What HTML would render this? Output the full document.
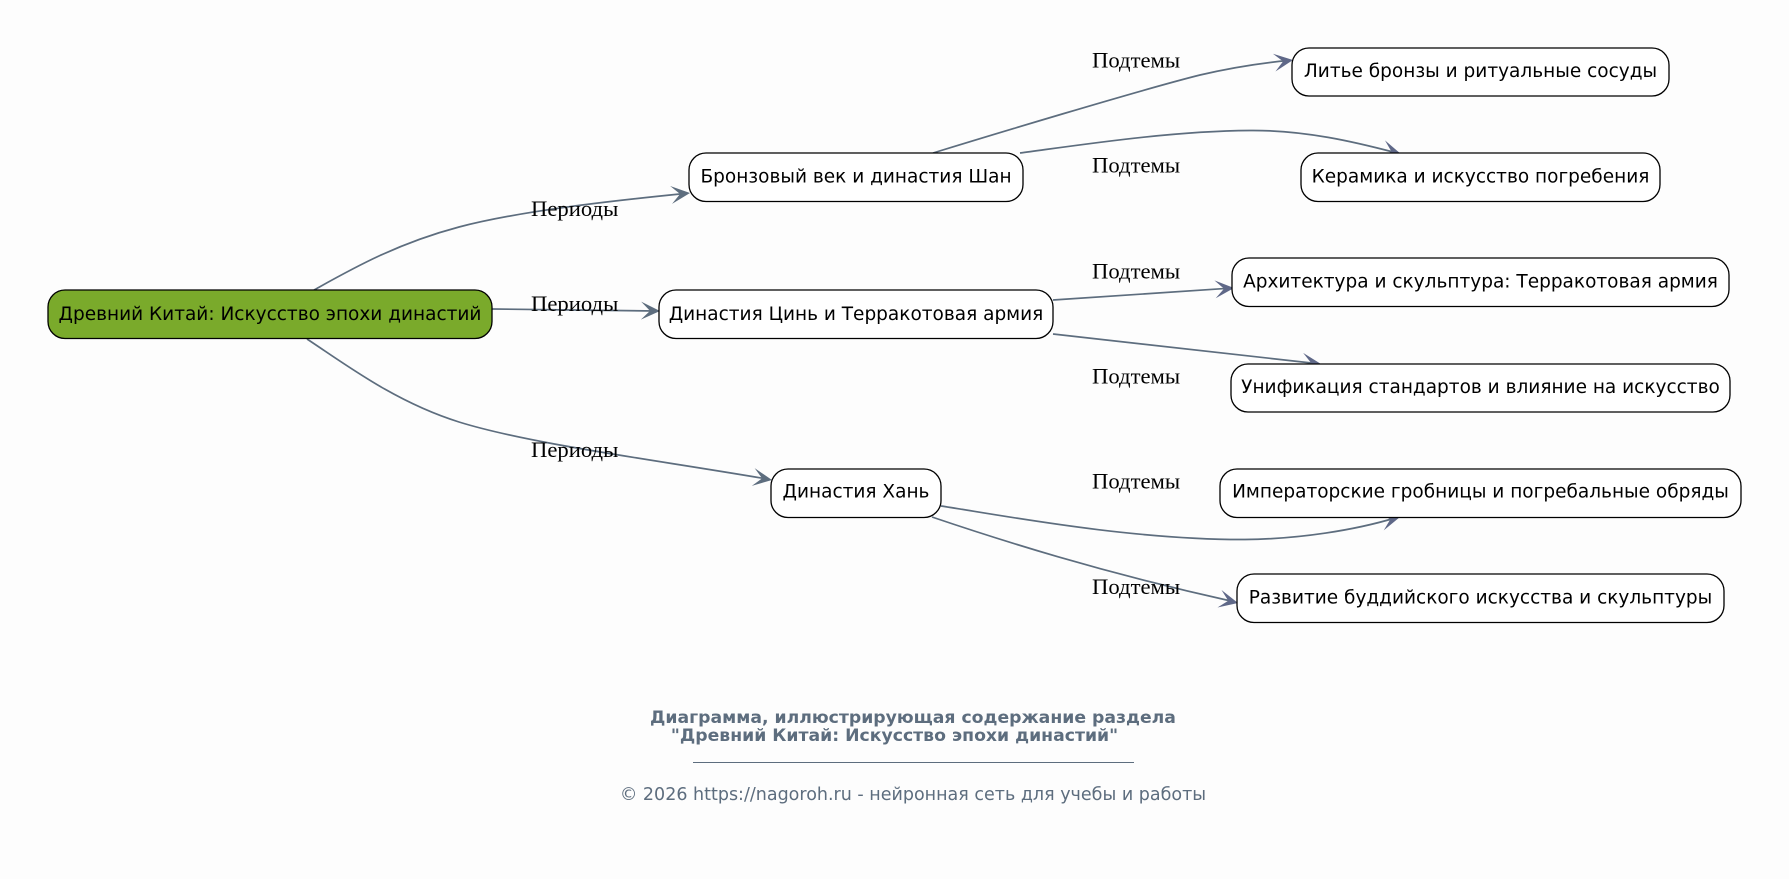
<!DOCTYPE html>
<html lang="ru"><head><meta charset="utf-8"><title>Диаграмма</title>
<style>
html,body{margin:0;padding:0;background:#fdfdfd}
svg{display:block}
.n{fill:#fff;stroke:#000;stroke-width:1.3}
.t{font-family:"DejaVu Sans",sans-serif;font-size:18.5px;fill:#000;text-anchor:middle}
.l{font-family:"Liberation Serif",serif;font-size:22.67px;fill:#000}
.e{fill:none;stroke:#5d6d7e;stroke-width:1.7}
.a{fill:#5d6d7e}
.b{fill:#5f6888}
</style></head><body>
<svg width="1789" height="879" viewBox="0 0 1789 879" xmlns="http://www.w3.org/2000/svg">
<rect width="1789" height="879" fill="#fdfdfd"/>

<path class="e" d="M314 290C350 270 395 244 459 227C520 211 610 201 685 193.500"/>
<path class="e" d="M492 309L655 311"/>
<path class="e" d="M307 339C345 364 395 402 459 422C530 444 650 459 767 479"/>
<path class="e" d="M933 153C985 137 1140 90 1200 75C1230 68 1262 63 1288 60.500"/>
<path class="e" d="M1020 153C1080 145 1170 131 1250 130.500C1305 130 1355 142 1395 152.500"/>
<path class="e" d="M1053 300L1228 288.300"/>
<path class="e" d="M1053 334L1316 363.500"/>
<path class="e" d="M941 506C1000 515 1130 540 1245 539.500C1300 539 1355 530 1395 518"/>
<path class="e" d="M932 517C1000 540 1100 572 1233 601.500"/>

<path class="a" transform="translate(690,193) rotate(-6)" d="M0 0L-19 -9L-10 0L-19 9Z"/>
<path class="a" transform="translate(660,311) rotate(1)" d="M0 0L-19 -9L-10 0L-19 9Z"/>
<path class="a" transform="translate(772,480) rotate(9)" d="M0 0L-19 -9L-10 0L-19 9Z"/>
<path class="b" transform="translate(1293,60) rotate(-8)" d="M0 0L-19 -9L-10 0L-19 9Z"/>
<path class="b" transform="translate(1401,154) rotate(15)" d="M0 0L-19 -9L-10 0L-19 9Z"/>
<path class="b" transform="translate(1234,288) rotate(-4)" d="M0 0L-19 -9L-10 0L-19 9Z"/>
<path class="b" transform="translate(1321,364) rotate(6.500)" d="M0 0L-19 -9L-10 0L-19 9Z"/>
<path class="b" transform="translate(1400,517) rotate(-14)" d="M0 0L-19 -9L-10 0L-19 9Z"/>
<path class="b" transform="translate(1238,603) rotate(13)" d="M0 0L-19 -9L-10 0L-19 9Z"/>

<rect x="48" y="290" width="444" height="48.500" rx="17" fill="#7aaa2b" stroke="#000" stroke-width="1.300"/>
<rect class="n" x="689" y="153" width="334" height="48.500" rx="17"/>
<rect class="n" x="659" y="290" width="394" height="48.500" rx="17"/>
<rect class="n" x="771" y="469" width="170" height="48.500" rx="17"/>
<rect class="n" x="1292" y="48" width="377" height="48" rx="17"/>
<rect class="n" x="1301" y="153" width="359" height="48.500" rx="17"/>
<rect class="n" x="1232" y="258" width="497" height="48.500" rx="17"/>
<rect class="n" x="1231" y="364" width="499" height="48" rx="17"/>
<rect class="n" x="1220" y="469" width="521" height="48.500" rx="17"/>
<rect class="n" x="1237" y="574" width="487" height="48.500" rx="17"/>

<text class="t" x="270" y="320">Древний Китай: Искусство эпохи династий</text>
<text class="t" x="856" y="182.500">Бронзовый век и династия Шан</text>
<text class="t" x="856" y="320">Династия Цинь и Терракотовая армия</text>
<text class="t" x="856" y="497.500">Династия Хань</text>
<text class="t" x="1480.500" y="77">Литье бронзы и ритуальные сосуды</text>
<text class="t" x="1480.500" y="182.500">Керамика и искусство погребения</text>
<text class="t" x="1480.500" y="287.500">Архитектура и скульптура: Терракотовая армия</text>
<text class="t" x="1480.500" y="393">Унификация стандартов и влияние на искусство</text>
<text class="t" x="1480.500" y="497.500">Императорские гробницы и погребальные обряды</text>
<text class="t" x="1480.500" y="603.500">Развитие буддийского искусства и скульптуры</text>

<text class="l" x="531" y="216">Периоды</text>
<text class="l" x="531" y="311">Периоды</text>
<text class="l" x="531" y="457">Периоды</text>
<text class="l" x="1092" y="67.500">Подтемы</text>
<text class="l" x="1092" y="172.500">Подтемы</text>
<text class="l" x="1092" y="278.500">Подтемы</text>
<text class="l" x="1092" y="383.500">Подтемы</text>
<text class="l" x="1092" y="488.500">Подтемы</text>
<text class="l" x="1092" y="594">Подтемы</text>

<text x="913" y="723" text-anchor="middle" font-family="DejaVu Sans, sans-serif" font-weight="bold" font-size="17.25px" fill="#5d6d7e">Диаграмма, иллюстрирующая содержание раздела</text>
<text x="894.500" y="741" text-anchor="middle" font-family="DejaVu Sans, sans-serif" font-weight="bold" font-size="17.25px" fill="#5d6d7e">"Древний Китай: Искусство эпохи династий"</text>
<path d="M693 762.500H1134" stroke="#5d6d7e" stroke-width="1" fill="none"/>
<text x="913" y="800" text-anchor="middle" font-family="DejaVu Sans, sans-serif" font-size="17.5px" fill="#5d6d7e">© 2026 https://nagoroh.ru - нейронная сеть для учебы и работы</text>
</svg>
</body></html>
